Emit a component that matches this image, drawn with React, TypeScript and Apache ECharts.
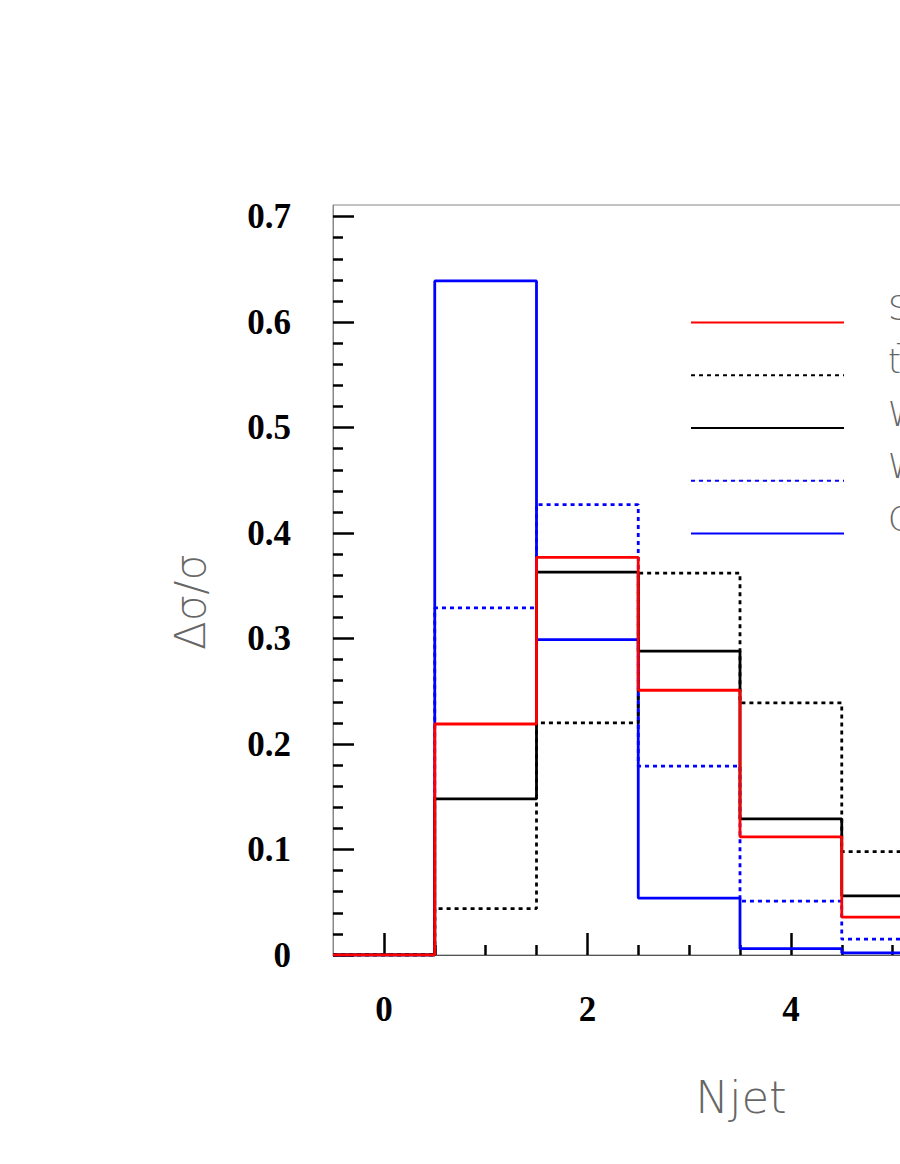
import React, { useEffect, useRef } from "react";
import * as echarts from "echarts";

// Njet bin centres (bin width 1)
const categories = [0, 1, 2, 3, 4, 5, 6, 7];

const seriesNames = ["Single top", "tt\u0305", "W+jets", "Wbb", "QCD"];

// Δσ/σ per Njet bin
const signalValues = [0, 0.219, 0.377, 0.251, 0.112, 0.036, 0.012, 0.003];
const ttbarValues = [0, 0.044, 0.22, 0.362, 0.239, 0.098, 0.028, 0.008];
const wjetsValues = [0, 0.148, 0.363, 0.288, 0.129, 0.056, 0.018, 0.006];
const wbbValues = [0, 0.329, 0.427, 0.179, 0.051, 0.015, 0.004, 0.001];
const qcdValues = [0, 0.639, 0.299, 0.054, 0.006, 0.002, 0.0005, 0];

const xTickValues = [0, 2, 4, 6];
const xLabelValues = [0, 2, 4];
const xTickLabels = ["0", "2", "4"];
const yTickValues = [0, 0.1, 0.2, 0.3, 0.4, 0.5, 0.6, 0.7];
const yTickLabels = ["0", "0.1", "0.2", "0.3", "0.4", "0.5", "0.6", "0.7"];

const X_MIN = -0.5;
const X_MAX = 7.5;
const Y_MIN = 0;
const Y_MAX = 0.711;

function histPoints(vals: number[]): number[][] {
  const pts = categories.map((c, i) => [c - 0.5, vals[i]]);
  pts.push([categories[categories.length - 1] + 0.5, vals[vals.length - 1]]);
  return pts;
}

function minorTicks(from: number, to: number, step: number, majors: number[]): number[] {
  const out: number[] = [];
  const n = Math.round((to - from) / step);
  for (let i = 0; i <= n; i++) {
    const v = +(from + i * step).toFixed(4);
    if (!majors.some((m) => Math.abs(m - v) < 1e-6)) out.push(v);
  }
  return out;
}

const labelFont = "'Liberation Serif', 'Times New Roman', serif";
const thinFont = "'DejaVu Sans', 'Noto Sans', sans-serif";

export default function App() {
  const ref = useRef<HTMLDivElement>(null);

  useEffect(() => {
    if (!ref.current) return;
    const chart = echarts.init(ref.current, undefined, { renderer: "svg" });

    const lineSeries = (name: string, vals: number[], color: string, dashed: boolean) => ({
      name,
      type: "line",
      xAxisIndex: 0,
      yAxisIndex: 0,
      step: "end",
      symbol: "none",
      showSymbol: false,
      data: histPoints(vals),
      lineStyle: { color, width: 2.8, type: dashed ? [4, 4] : "solid" },
      itemStyle: { color },
      emphasis: { disabled: true },
    });

    const xMinor = minorTicks(0.5, 7, 0.5, xTickValues);
    const yMinor = minorTicks(0.02, 0.7, 0.02, yTickValues);

    chart.setOption({
      animation: false,
      backgroundColor: "#ffffff",
      grid: {
        left: 333,
        top: 205,
        right: 153,
        bottom: 209,
        show: true,
        borderColor: "#888888",
        borderWidth: 1,
        backgroundColor: "transparent",
      },
      legend: {
        orient: "vertical",
        left: 690,
        top: 292,
        padding: 0,
        itemWidth: 153,
        itemHeight: 14,
        itemGap: -8.25,
        data: seriesNames,
        selectedMode: false,
        itemStyle: { opacity: 0 },
        formatter: (name: string) => name + "\n ",
        textStyle: {
          fontFamily: thinFont,
          fontWeight: 200,
          fontSize: 33,
          color: "#666666",
          lineHeight: 28,
          padding: [0, 0, 0, 39],
          backgroundColor: "rgba(255,255,255,0)",
        },
      },
      xAxis: [
        {
          type: "value",
          position: "bottom",
          min: X_MIN,
          max: X_MAX,
          splitLine: { show: false },
          axisLine: { show: true, onZero: false, lineStyle: { color: "#555555", width: 1 } },
          axisTick: {
            show: true,
            inside: true,
            length: 22,
            customValues: xTickValues,
            lineStyle: { color: "#000000", width: 2.5 },
          },
          axisLabel: {
            show: true,
            customValues: xLabelValues,
            margin: 37,
            formatter: (v: number) => {
              const i = xLabelValues.findIndex((t) => Math.abs(t - v) < 1e-9);
              return i >= 0 ? xTickLabels[i] : "";
            },
            fontFamily: labelFont,
            fontWeight: "bold",
            fontSize: 35,
            color: "#000000",
          },
        },
        {
          type: "value",
          position: "bottom",
          min: X_MIN,
          max: X_MAX,
          splitLine: { show: false },
          axisLine: { show: false, onZero: false },
          axisLabel: { show: false },
          axisTick: {
            show: true,
            inside: true,
            length: 10,
            customValues: xMinor,
            lineStyle: { color: "#000000", width: 2.5 },
          },
        },
      ],
      yAxis: [
        {
          type: "value",
          position: "left",
          min: Y_MIN,
          max: Y_MAX,
          splitLine: { show: false },
          axisLine: { show: true, onZero: false, lineStyle: { color: "#888888", width: 1 } },
          axisTick: {
            show: true,
            inside: true,
            length: 21,
            customValues: yTickValues,
            lineStyle: { color: "#000000", width: 2.5 },
          },
          axisLabel: {
            show: true,
            customValues: yTickValues,
            margin: 42,
            formatter: (v: number) => {
              const i = yTickValues.findIndex((t) => Math.abs(t - v) < 1e-9);
              return i >= 0 ? yTickLabels[i] : "";
            },
            fontFamily: labelFont,
            fontWeight: "bold",
            fontSize: 35,
            color: "#000000",
          },
        },
        {
          type: "value",
          position: "left",
          min: Y_MIN,
          max: Y_MAX,
          splitLine: { show: false },
          axisLine: { show: false, onZero: false },
          axisLabel: { show: false },
          axisTick: {
            show: true,
            inside: true,
            length: 10,
            customValues: yMinor,
            lineStyle: { color: "#000000", width: 2.5 },
          },
        },
      ],
      graphic: [
        {
          type: "text",
          x: 741,
          y: 1097,
          style: {
            text: "Njet",
            fontFamily: thinFont,
            fontWeight: 200,
            fontSize: 45,
            fill: "#666666",
            align: "center",
            verticalAlign: "middle",
          },
        },
        {
          type: "text",
          x: 190,
          y: 602,
          rotation: Math.PI / 2,
          style: {
            text: "\u0394\u03c3/\u03c3",
            fontFamily: thinFont,
            fontWeight: 200,
            fontSize: 42,
            fill: "#666666",
            align: "center",
            verticalAlign: "middle",
          },
        },
      ],
      series: [
        lineSeries(seriesNames[4], qcdValues, "#0000ff", false),
        lineSeries(seriesNames[3], wbbValues, "#0000ff", true),
        lineSeries(seriesNames[1], ttbarValues, "#000000", true),
        lineSeries(seriesNames[2], wjetsValues, "#000000", false),
        lineSeries(seriesNames[0], signalValues, "#ff0000", false),
      ],
    });

    return () => chart.dispose();
  }, []);

  return (
    <div
      style={{
        position: "fixed",
        left: 0,
        top: 0,
        width: 900,
        height: 1164,
        overflow: "hidden",
        background: "#ffffff",
      }}
    >
      <div ref={ref} style={{ width: 1300, height: 1164 }} />
    </div>
  );
}
